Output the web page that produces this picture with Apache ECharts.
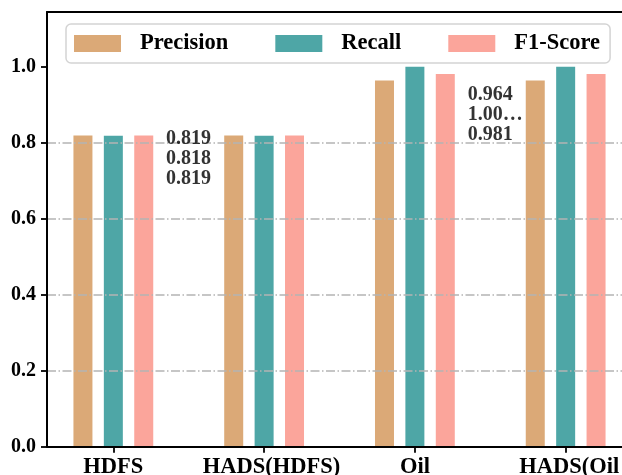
<!DOCTYPE html>
<html>
<head>
<meta charset="utf-8">
<script src="https://cdn.jsdelivr.net/npm/echarts@6/dist/echarts.min.js"></script>
<style>
html,body{margin:0;padding:0;background:#fff;}
#chart{width:622px;height:475px;}
</style>
</head>
<body>
<div id="chart"></div>
<script>
const categories = ['HDFS', 'HADS(HDFS)', 'Oil', 'HADS(Oil'];
const precision = [0.819, 0.819, 0.964, 0.964];
const recall = [0.818, 0.818, 1.0, 1.0];
const f1score = [0.819, 0.819, 0.981, 0.981];
const seriesNames = ['Precision', 'Recall', 'F1-Score'];
const yTicks = [0.0, 0.2, 0.4, 0.6, 0.8, 1.0];
const annotX = [0.35, 2.35];
const annotY = [0.758, 0.874];
const annotText = ['0.819\n0.818\n0.819', '0.964\n1.00\u2026\n0.981'];

const FONT = "'Liberation Serif', 'Times New Roman', serif";
const colors = ['#DBA977', '#4EA6A6', '#FBA59B'];
const catIdx = categories.map((c, i) => i);
const labelStyleKey = ['a', 'b', 'a', 'c'];

function barSeries(name, vals, color) {
  return {
    name: name,
    type: 'bar',
    xAxisIndex: 0, yAxisIndex: 0,
    barWidth: 19,
    barGap: '60%',
    itemStyle: { color: color },
    data: vals.map((v, i) => [catIdx[i], v]),
    z: 2
  };
}

const labelText = { fontFamily: FONT, fontWeight: 'bold', fontSize: 22.5, color: '#000' };

const chart = echarts.init(document.getElementById('chart'), null, { renderer: 'canvas' });
chart.setOption({
  animation: false,
  textStyle: { fontFamily: FONT },
  grid: { left: 47, top: 12, bottom: 28.3, right: -10, containLabel: false, outerBoundsMode: 'none' },
  legend: {
    data: seriesNames,
    left: 66, top: 24,
    icon: 'rect',
    itemWidth: 47, itemHeight: 17, itemGap: 47,
    padding: [8, 10, 8, 8],
    backgroundColor: '#ffffff',
    borderColor: '#d4d4d4', borderWidth: 1.5, borderRadius: 5,
    textStyle: { fontFamily: FONT, fontWeight: 'bold', fontSize: 22.5, color: '#000', padding: [0, 0, 0, 14] },
    z: 10
  },
  xAxis: [{
    type: 'value', min: -0.44, max: 3.44, position: 'bottom',
    z: 4,
    axisLine: { show: true, onZero: false, lineStyle: { color: '#000', width: 2 } },
    axisTick: { show: true, length: 6, lineStyle: { color: '#000', width: 1.8 }, customValues: catIdx },
    axisLabel: {
      show: true, customValues: catIdx,
      formatter: v => { const i = Math.round(v); return '{' + labelStyleKey[i] + '|' + categories[i] + '}'; },
      margin: 9,
      rich: {
        a: Object.assign({}, labelText),
        b: Object.assign({ padding: [0, 0, 0, 15] }, labelText),
        c: Object.assign({ padding: [0, 0, 0, 7] }, labelText)
      }
    },
    splitLine: { show: false }
  }, {
    type: 'value', min: -0.44, max: 3.44, position: 'top',
    z: 4,
    axisLine: { show: true, onZero: false, lineStyle: { color: '#000', width: 2 } },
    axisTick: { show: false }, axisLabel: { show: false }, splitLine: { show: false }
  }],
  yAxis: [{
    type: 'value', min: 0, max: 1.144, interval: 0.2,
    z: 3,
    axisLine: { show: true, onZero: false, lineStyle: { color: '#000', width: 2 } },
    axisTick: { show: true, length: 6, lineStyle: { color: '#000', width: 1.8 }, customValues: yTicks },
    axisLabel: { customValues: yTicks, formatter: v => v.toFixed(1), fontFamily: FONT, fontWeight: 'bold', fontSize: 20, color: '#000', margin: 11 },
    splitLine: { show: true, showMaxLine: false, lineStyle: { color: '#b4b4b4', width: 1.5, type: [9, 2.5, 1.5, 2.5] } }
  }],
  series: [
    barSeries(seriesNames[0], precision, colors[0]),
    barSeries(seriesNames[1], recall, colors[1]),
    barSeries(seriesNames[2], f1score, colors[2]),
    {
      name: 'annot',
      type: 'scatter',
      symbolSize: 0,
      silent: true,
      data: annotX.map((x, i) => [x, annotY[i]]),
      label: {
        show: true,
        position: [0, 0],
        align: 'left', verticalAlign: 'middle',
        formatter: p => annotText[p.dataIndex],
        fontFamily: FONT, fontWeight: 'bold', fontSize: 20, lineHeight: 20, color: '#000'
      },
      z: 5
    }
  ]
});
</script>
</body>
</html>
